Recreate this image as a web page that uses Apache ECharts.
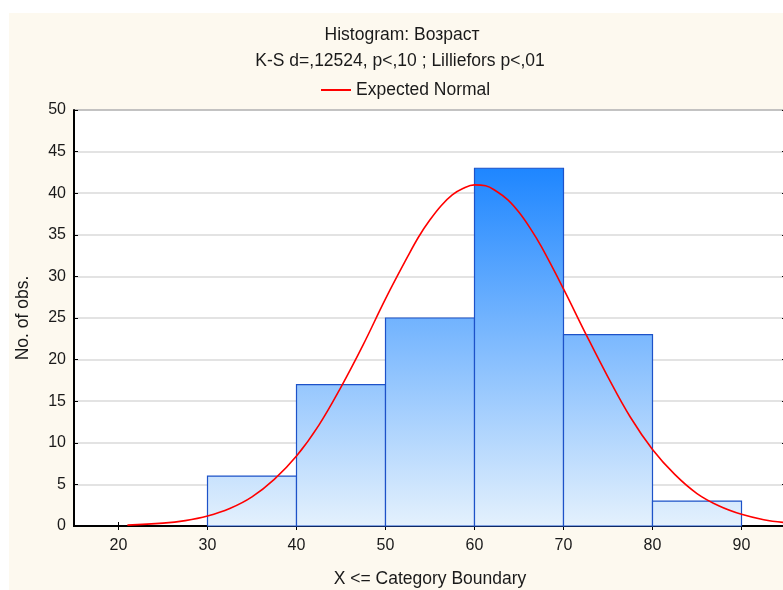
<!DOCTYPE html>
<html>
<head>
<meta charset="utf-8">
<script src="https://cdn.jsdelivr.net/npm/echarts@6/dist/echarts.min.js"></script>
<style>
  html, body { margin: 0; padding: 0; background: #fff; }
  #chart { width: 783px; height: 590px; }
</style>
</head>
<body>
<div id="chart"></div>
<script>
// histogram bins: lower bound, upper bound, count
var binLow = [30, 40, 50, 60, 70, 80];
var binHigh = [40, 50, 60, 70, 80, 90];
var binCount = [6, 17, 25, 43, 23, 3];

// expected normal curve
var curveX = [21, 25, 27.5, 30, 32.5, 35, 37.5, 40, 42.5, 45, 47.5, 50, 52.5, 53.75, 55, 56.25, 57.5, 58.75, 60,
              61.25, 62.5, 63.75, 65, 66.25, 67.5, 70, 72.5, 75, 77.5, 80, 82.5, 85, 87.5, 90, 92.5, 95];
var curveY = [0.11, 0.34, 0.65, 1.2, 2.1, 3.5, 5.6, 8.4, 12.1, 16.7, 21.8, 27.3, 32.4, 34.8, 36.8, 38.5, 39.8, 40.6, 41.0,
              40.9, 40.2, 39.2, 37.7, 35.8, 33.6, 28.5, 23.1, 17.9, 13.1, 9.2, 6.2, 3.9, 2.4, 1.4, 0.76, 0.4];

var xTicks = [20, 30, 40, 50, 60, 70, 80, 90];

var font = 'Liberation Sans, Arial, sans-serif';
var txt = '#1a1a1a';
var bigFont = 17.5;
var tickFont = 16;

var myChart = echarts.init(document.getElementById('chart'));

var bins = [];
for (var i = 0; i < binCount.length; i++) {
    bins.push([binLow[i], binHigh[i], binCount[i]]);
}
var curve = [];
for (var j = 0; j < curveX.length; j++) {
    curve.push([curveX[j], curveY[j]]);
}
var maxCount = Math.max.apply(null, binCount);

var option = {
    backgroundColor: '#ffffff',
    animation: false,
    graphic: [
        { type: 'rect', left: 9, top: 13, z: -10, shape: { width: 800, height: 600 }, style: { fill: '#fdf9ef' } },
        { type: 'text', x: 402, y: 35, style: { text: 'Histogram: Возраст', font: bigFont + 'px ' + font, fill: txt, align: 'center', verticalAlign: 'middle' } },
        { type: 'text', x: 400, y: 61, style: { text: 'K-S d=,12524, p<,10 ; Lilliefors p<,01', font: bigFont + 'px ' + font, fill: txt, align: 'center', verticalAlign: 'middle' } }
    ],
    legend: {
        left: 316,
        top: 76,
        icon: 'rect',
        itemWidth: 30,
        itemHeight: 2,
        itemGap: 10,
        textStyle: { fontFamily: font, fontSize: bigFont, color: txt },
        data: ['Expected Normal']
    },
    grid: {
        left: 74, top: 110, width: 712, bottom: 64,
        outerBoundsMode: 'none',
        show: true, backgroundColor: '#ffffff', borderColor: '#000', borderWidth: 1
    },
    xAxis: [{
        type: 'value', min: 15, max: 95,
        name: 'X <= Category Boundary', nameLocation: 'middle', nameGap: 44,
        nameTextStyle: { fontFamily: font, fontSize: bigFont, color: txt },
        axisLine: { show: true, lineStyle: { color: '#000', width: 2 } },
        axisTick: { show: true, inside: true, length: 4, lineStyle: { color: '#000' }, customValues: xTicks },
        axisLabel: { fontFamily: font, fontSize: tickFont, color: txt, margin: 12, customValues: xTicks },
        splitLine: { show: false }
    }, {
        type: 'value', min: 15, max: 95, position: 'top',
        axisLine: { show: true, lineStyle: { color: '#000', width: 2 } },
        axisTick: { show: true, inside: true, length: 4, lineStyle: { color: '#000' }, customValues: xTicks },
        axisLabel: { show: false },
        splitLine: { show: false }
    }],
    yAxis: [{
        type: 'value', min: 0, max: 50, interval: 5,
        name: 'No. of obs.', nameLocation: 'middle', nameGap: 42, nameRotate: 90,
        nameTextStyle: { fontFamily: font, fontSize: bigFont, color: txt },
        axisLine: { show: true, lineStyle: { color: '#000', width: 2 } },
        axisTick: { show: true, inside: true, length: 4, lineStyle: { color: '#000' } },
        axisLabel: { fontFamily: font, fontSize: tickFont, color: txt, margin: 8 },
        splitLine: { show: true, lineStyle: { color: '#dadada', width: 1.5 } }
    }, {
        type: 'value', min: 0, max: 50, interval: 5, position: 'right',
        axisLine: { show: true, lineStyle: { color: '#000', width: 2 } },
        axisTick: { show: true, inside: true, length: 4, lineStyle: { color: '#000' } },
        axisLabel: { show: false },
        splitLine: { show: false }
    }],
    series: [{
        name: 'Histogram',
        type: 'custom',
        data: bins,
        renderItem: function (params, api) {
            var p0 = api.coord([api.value(0), api.value(2)]);
            var p1 = api.coord([api.value(1), 0]);
            var gTop = api.coord([0, maxCount])[1];
            var gBot = api.coord([0, 0])[1];
            return {
                type: 'rect',
                shape: { x: p0[0], y: p0[1], width: p1[0] - p0[0], height: p1[1] - p0[1] },
                style: {
                    fill: new echarts.graphic.LinearGradient(0, gTop, 0, gBot, [
                        { offset: 0, color: '#1e86ff' },
                        { offset: 1, color: '#e4f1fd' }
                    ], true),
                    stroke: '#1d52c8',
                    lineWidth: 1.2
                }
            };
        },
        encode: { x: [0, 1], y: 2 },
        z: 2
    }, {
        name: 'Expected Normal',
        type: 'line',
        data: curve,
        smooth: 0.4,
        showSymbol: false,
        symbol: 'none',
        clip: true,
        itemStyle: { color: '#ff0000' },
        lineStyle: { color: '#ff0000', width: 1.6 },
        z: 3
    }]
};

myChart.setOption(option);
</script>
</body>
</html>
